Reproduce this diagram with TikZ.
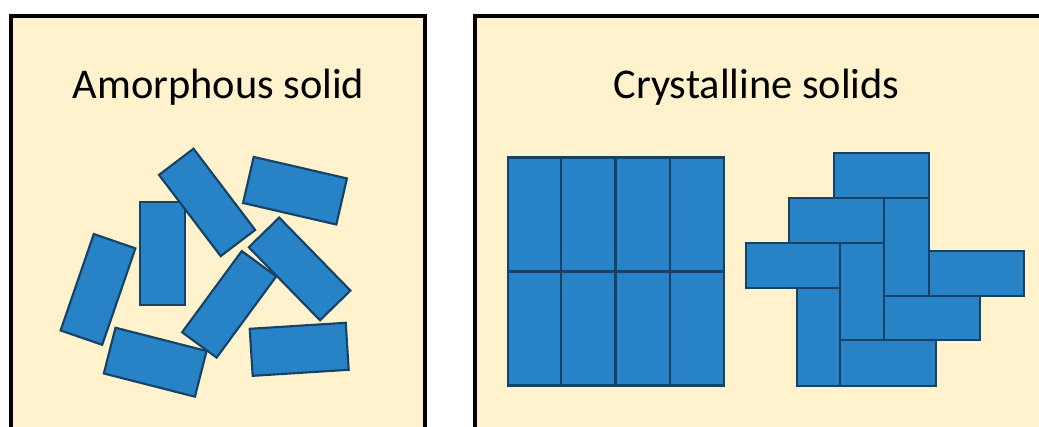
\documentclass[tikz,border=0pt]{standalone}
\usepackage{fontspec}
\setmainfont{Carlito}
\definecolor{panelfill}{RGB}{255,242,204}
\definecolor{brickfill}{RGB}{39,131,198}
\definecolor{brickline}{RGB}{22,66,102}
\tikzset{
  panel/.style={draw=black, line width=3pt, fill=panelfill},
  brick/.style={draw=brickline, fill=brickfill, line width=1.6pt, inner sep=0pt, outer sep=0pt},
  tile/.style={draw=brickline, fill=brickfill, line width=1.6pt},
  bsize/.style 2 args={minimum width=#1*0.75pt, minimum height=#2*0.75pt},
  heading/.style={font=\fontsize{31.8}{31.8}\selectfont, anchor=base, inner sep=0pt}
}
\begin{document}
\begin{tikzpicture}[x=0.75pt, y=-0.75pt]
\useasboundingbox (0,0) rectangle (1039,426);
\clip (0,0) rectangle (1039,426);

% two framed panels, running off the bottom and right edges
\draw[panel] (10.5,16) rectangle (425,440);
\draw[panel] (474.5,16) rectangle (1060,440);

\node[heading] (amtitle) at (218.5,98) {Amorphous solid};
\node[heading] (crtitle) at (756.5,98) {Crystalline solids};

% amorphous solid: randomly oriented bricks
\node[brick, bsize={102}{44},   rotate=71]    (a1) at (98,289.4)    {};
\node[brick, bsize={102.5}{45.5}, rotate=90]  (a2) at (162.5,253.4) {};
\node[brick, bsize={102}{43.3}, rotate=-52.8] (a3) at (207.1,202.4) {};
\node[brick, bsize={95.7}{47.3}, rotate=-13]  (a4) at (295,190.7)   {};
\node[brick, bsize={102}{42.5}, rotate=-45.7] (a5) at (299.6,268.9) {};
\node[brick, bsize={94}{47.2},  rotate=-14.3] (a6) at (155.2,362.2) {};
\node[brick, bsize={100.8}{42.8}, rotate=53.7] (a7) at (229.2,304.3) {};
\node[brick, bsize={96.2}{47.1}, rotate=3.6]  (a8) at (299.2,349.3) {};

% crystalline solid: regular 4 x 2 stack
\foreach \xa/\xb in {508/561, 561/615.5, 615.5/670, 670/724}{
  \draw[tile] (\xa,157.5) rectangle (\xb,271.5);
  \draw[tile] (\xa,271.5) rectangle (\xb,385.5);
}

% crystalline solid: herringbone pattern
\draw[tile] (834.3,153.3) rectangle (929.3,198.3);
\draw[tile] (789.3,198.3) rectangle (884.3,243.3);
\draw[tile] (884.3,198.3) rectangle (929.3,295.7);
\draw[tile] (746,243.3)   rectangle (840,288.3);
\draw[tile] (840,243.3)   rectangle (884.3,340);
\draw[tile] (929.3,250.7) rectangle (1024.3,295.7);
\draw[tile] (884.3,295.7) rectangle (980,340);
\draw[tile] (796.7,288.3) rectangle (840,385.7);
\draw[tile] (840,340)     rectangle (936,385.7);
\end{tikzpicture}
\end{document}
